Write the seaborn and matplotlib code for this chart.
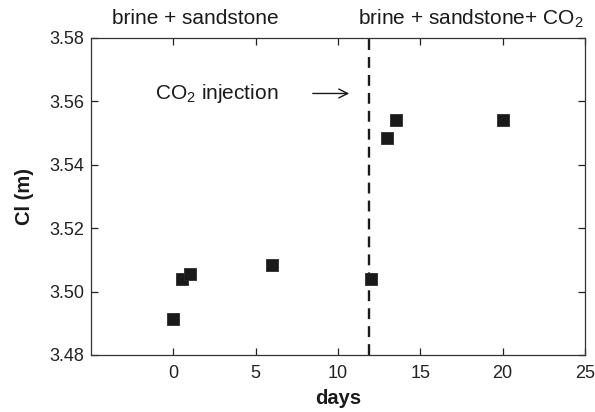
import matplotlib
matplotlib.use("Agg")
import matplotlib.pyplot as plt
import seaborn as sns
import pandas as pd

# Chloride concentration measurements over time
days = [0.0, 0.5, 1.0, 6.0, 12.0, 13.0, 13.5, 20.0]
cl_molar = [3.4915, 3.5040, 3.5055, 3.5085, 3.5040, 3.5483, 3.5542, 3.5542]
injection_day = 11.9

x_ticks = [0, 5, 10, 15, 20, 25]
y_ticks = [3.48, 3.50, 3.52, 3.54, 3.56, 3.58]

sns.set_theme(style="ticks")
plt.rcParams["font.family"] = ["Liberation Sans", "DejaVu Sans"]
plt.rcParams["mathtext.fontset"] = "custom"
plt.rcParams["mathtext.rm"] = "Liberation Sans"

W, H = 595, 412
df = pd.DataFrame({"days": days, "Cl": cl_molar})

fig = plt.figure(figsize=(W / 100, H / 100), dpi=100)
ax = fig.add_axes([91 / W, 1 - 355 / H, (585 - 91) / W, (355 - 38) / H])

sns.scatterplot(data=df, x="days", y="Cl", marker="s", s=68, color="#1a1a1a",
                edgecolor="#2a2a2a", linewidth=0.6, ax=ax, zorder=3)

ax.axvline(injection_day, color="#1a1a1a", linestyle=(0, (4.6, 3.0)),
           linewidth=1.7, zorder=2)

ax.set_xlim(-5, 25)
ax.set_ylim(3.48, 3.58)
ax.set_xticks(x_ticks)
ax.set_yticks(y_ticks)
ax.set_yticklabels([f"{v:.2f}" for v in y_ticks])
ax.tick_params(direction="in", top=True, right=True, length=5, width=0.9,
               labelsize=13, colors="#222222")
ax.tick_params(axis="x", pad=7.5)
ax.tick_params(axis="y", pad=5)
for sp in ax.spines.values():
    sp.set_linewidth(0.9)
    sp.set_color("#333333")

ax.set_xlabel("days", fontsize=14.5, fontweight="bold", labelpad=5,
              color="#1a1a1a")
ax.set_ylabel("Cl (m)", fontsize=14.5, fontweight="bold", labelpad=11,
              color="#1a1a1a")

ax.annotate("", xy=(10.85, 3.5625), xytext=(8.3, 3.5625),
            arrowprops=dict(arrowstyle="->", color="#1a1a1a", lw=1.0,
                            mutation_scale=16))
ax.text(-1.1, 3.5625, "CO$_2$ injection", fontsize=15, va="center", ha="left",
        color="#1a1a1a")

fig.text(195 / W, 1 - 24 / H, "brine + sandstone", fontsize=15, ha="center",
         va="baseline", color="#1a1a1a")
fig.text(471 / W, 1 - 24 / H, "brine + sandstone+ CO$_2$", fontsize=15,
         ha="center", va="baseline", color="#1a1a1a")

fig.savefig("out.png", dpi=100)
